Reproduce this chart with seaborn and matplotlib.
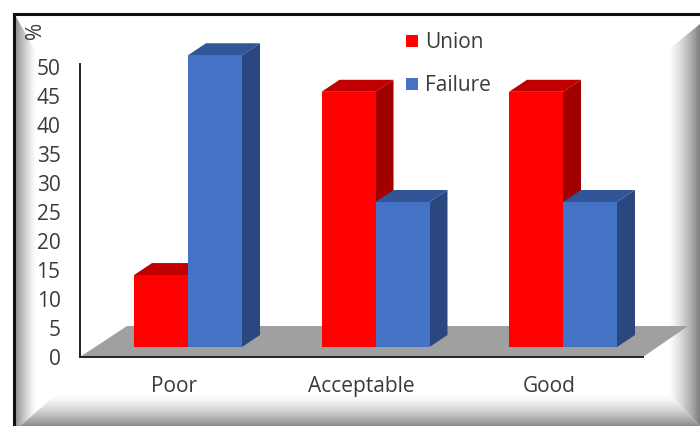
import numpy as np
import pandas as pd
import matplotlib
matplotlib.use("Agg")
import matplotlib.pyplot as plt
from matplotlib.patches import Polygon
import seaborn as sns

categories = ["Poor", "Acceptable", "Good"]
union = [12.4, 44, 44]
failure = [50.3, 25, 25]
series_names = ["Union", "Failure"]
y_ticks = [0, 5, 10, 15, 20, 25, 30, 35, 40, 45, 50]

sns.set_theme(style="white")
plt.rcParams["font.family"] = ["Open Sans", "DejaVu Sans"]

W, H = 700, 426
fig = plt.figure(figsize=(W / 100, H / 100), dpi=100, facecolor="white")

def px_axes(l, t, r, b, **kw):
    return fig.add_axes([l / W, 1 - b / H, (r - l) / W, (b - t) / H], **kw)

# ---- bevelled frame -------------------------------------------------
bg = px_axes(0, 0, W, H, zorder=0)
bg.set_xlim(0, W); bg.set_ylim(H, 0); bg.axis("off")
bg.add_patch(plt.Rectangle((15, 15), 685, 411, fc="white", ec="none"))

def ramp(direction, edge=0.52, power=1.35):
    t = np.linspace(0, 1, 64) ** power
    v = 1 - (1 - edge) * t
    return v[None, :] if direction == "h" else v[:, None]

panels = [
    (ramp("h", 0.55)[:, ::-1], (15, 37, 426, 15), [(15, 15), (36, 52), (37, 52), (37, 393), (58, 393), (20, 426), (15, 426)]),
    (ramp("h", 0.5), (668, 700, 426, 15), [(700, 24), (668, 50), (668, 393), (700, 426)]),
    (ramp("v", 0.55, 1.5), (15, 700, 426, 393), [(20, 426), (58, 393), (668, 393), (700, 426)]),
]
for img, ext, poly in panels:
    im = bg.imshow(img, cmap="gray", vmin=0, vmax=1, extent=ext, aspect="auto", zorder=1)
    clip = Polygon(poly, transform=bg.transData, fc="none", ec="none")
    bg.add_patch(clip)
    im.set_clip_path(clip)
bg.set_xlim(0, W); bg.set_ylim(H, 0)
bg.plot([14, 14, 700], [426, 14, 14], color="#111111", lw=2.2, zorder=5, solid_joinstyle="miter")

# ---- axis frame (front plane) ---------------------------------------
text_c = "#3a3a3a"
ax = px_axes(80, 64.1, 643, 357, zorder=1)
ax.patch.set_alpha(0)
ax.set_xlim(-0.5, 2.5); ax.set_ylim(0, 50.5)
ax.set_xticks(range(3)); ax.set_xticklabels(categories)
ax.set_yticks(y_ticks)
ax.tick_params(length=0, labelsize=15, labelcolor=text_c)
ax.tick_params(axis="x", pad=14)
ax.tick_params(axis="y", pad=14)
for s in ("top", "right"):
    ax.spines[s].set_visible(False)
for s in ("left", "bottom"):
    ax.spines[s].set_color("#222222"); ax.spines[s].set_linewidth(1.4)
floor = Polygon([(0, 0), (1, 0), (1 + 45 / 563, 31 / 293), (47 / 563, 31 / 293)],
                transform=ax.transAxes, fc="#a0a0a0", ec="none", clip_on=False, zorder=0)
ax.add_patch(floor)
ax.text(35, 30, "%", transform=bg.transData, rotation=90, ha="center", va="center",
        fontsize=15, color=text_c)

# ---- bars (plane shifted back) ---------------------------------------
df = pd.DataFrame({
    "category": categories * 2,
    "series": [series_names[0]] * 3 + [series_names[1]] * 3,
    "value": union + failure,
})
colors = {"Union": ("#ff0000", "#c00000", "#a00000"),
          "Failure": ("#4472c4", "#325597", "#2a4780")}
bx = px_axes(94.25, 54.1, 656.75, 347, zorder=2)
bx.patch.set_alpha(0)
sns.barplot(data=df, x="category", y="value", hue="series", order=categories,
            hue_order=series_names, palette={k: v[0] for k, v in colors.items()},
            width=0.576, saturation=1, ax=bx, zorder=3, linewidth=0, errorbar=None)
bx.set_xlim(-0.5, 2.5); bx.set_ylim(0, 50.5)
bx.set_axis_off()
dx = 18 / (562.5 / 3)
dy = 12 / (292.9 / 50.5)
for i, (name, cont) in enumerate(zip(series_names, bx.containers)):
    front, top, side = colors[name]
    for r in cont:
        x0, x1, h = r.get_x(), r.get_x() + r.get_width(), r.get_height()
        bx.add_patch(Polygon([(x0, h), (x1, h), (x1 + dx, h + dy), (x0 + dx, h + dy)],
                             fc=top, ec="none", clip_on=False, zorder=1 + i))
        bx.add_patch(Polygon([(x1, 0), (x1 + dx, dy), (x1 + dx, h + dy), (x1, h)],
                             fc=side, ec="none", clip_on=False, zorder=1 + i))
leg = bx.legend(loc="upper left", bbox_to_anchor=(406 / W, 1 - 32.5 / H),
                bbox_transform=fig.transFigure, frameon=False, title=None,
                fontsize=15, handlelength=0.58, handleheight=0.5,
                handletextpad=0.34, labelspacing=1.05, borderpad=0, borderaxespad=0,
                labelcolor=text_c)

fig.savefig("out.png", dpi=100)
